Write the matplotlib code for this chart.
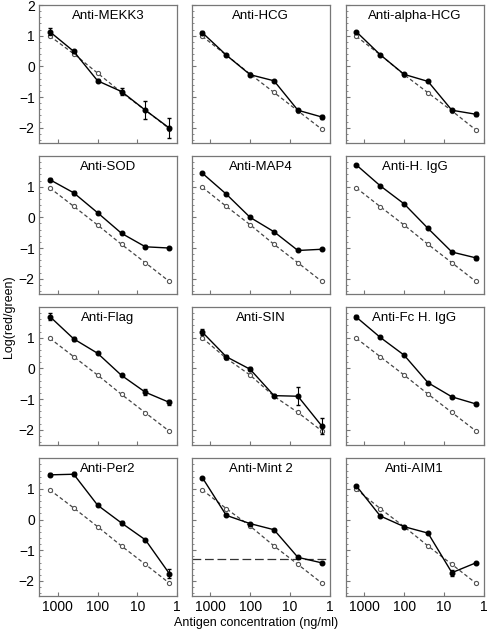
import numpy as np
import matplotlib.pyplot as plt
from matplotlib.ticker import LogLocator, MultipleLocator, NullFormatter, FixedLocator

plt.rcParams['font.family'] = ['Liberation Sans', 'DejaVu Sans']

# 4-fold dilution series (ng/ml)
conc = [1600, 400, 100, 25, 6.25, 1.5625]

titles = ["Anti-MEKK3", "Anti-HCG", "Anti-alpha-HCG",
          "Anti-SOD", "Anti-MAP4", "Anti-H. IgG",
          "Anti-Flag", "Anti-SIN", "Anti-Fc H. IgG",
          "Anti-Per2", "Anti-Mint 2", "Anti-AIM1"]

# reference (open circles, dashed) per panel
ref = [
    [0.99, 0.41, -0.22, -0.85, -1.43, -2.03],
    [0.98, 0.37, -0.25, -0.85, -1.45, -2.05],
    [0.98, 0.38, -0.27, -0.86, -1.45, -2.07],
    [0.96, 0.36, -0.25, -0.88, -1.48, -2.09],
    [0.98, 0.36, -0.24, -0.88, -1.48, -2.09],
    [0.96, 0.35, -0.25, -0.88, -1.48, -2.09],
    [0.98, 0.38, -0.22, -0.85, -1.45, -2.05],
    [0.99, 0.33, -0.22, -0.91, -1.44, -2.04],
    [0.98, 0.38, -0.22, -0.84, -1.44, -2.04],
    [0.97, 0.38, -0.23, -0.86, -1.46, -2.07],
    [0.97, 0.36, -0.21, -0.86, -1.46, -2.07],
    [0.99, 0.36, -0.23, -0.86, -1.46, -2.07],
]

# antibody signal (filled circles, solid)
sig = [
    [1.13, 0.49, -0.47, -0.82, -1.43, -2.01],
    [1.10, 0.37, -0.27, -0.47, -1.43, -1.65],
    [1.13, 0.38, -0.26, -0.49, -1.43, -1.56],
    [1.23, 0.80, 0.15, -0.52, -0.96, -1.00],
    [1.44, 0.76, 0.00, -0.47, -1.08, -1.04],
    [1.71, 1.03, 0.44, -0.36, -1.13, -1.32],
    [1.69, 0.96, 0.49, -0.23, -0.78, -1.11],
    [1.18, 0.38, -0.03, -0.89, -0.91, -1.88],
    [1.67, 1.01, 0.43, -0.47, -0.93, -1.16],
    [1.46, 1.48, 0.47, -0.11, -0.66, -1.76],
    [1.37, 0.14, -0.13, -0.33, -1.23, -1.41],
    [1.10, 0.12, -0.23, -0.44, -1.73, -1.41],
]

sig_err = [
    [0.12, 0.04, 0.05, 0.10, 0.30, 0.32],
    [0.04, 0.02, 0.03, 0.03, 0.04, 0.07],
    [0.04, 0.02, 0.03, 0.03, 0.04, 0.07],
    [0.05, 0.06, 0.03, 0.03, 0.05, 0.03],
    [0.03, 0.03, 0.03, 0.03, 0.03, 0.03],
    [0.03, 0.03, 0.03, 0.03, 0.03, 0.07],
    [0.12, 0.06, 0.03, 0.03, 0.10, 0.08],
    [0.10, 0.06, 0.06, 0.05, 0.30, 0.25],
    [0.06, 0.03, 0.03, 0.03, 0.03, 0.05],
    [0.05, 0.06, 0.03, 0.06, 0.03, 0.14],
    [0.03, 0.03, 0.03, 0.03, 0.03, 0.03],
    [0.03, 0.03, 0.03, 0.03, 0.10, 0.03],
]

ref_err = [0.03] * 6

mint2_cutoff = -1.27

fig = plt.figure(figsize=(5.0, 6.33), dpi=100)

lefts = [0.078, 0.383, 0.691]
bottoms = [0.774, 0.5355, 0.297, 0.058]
w, h = 0.276, 0.218
spine_col = '#777777'

for i, title in enumerate(titles):
    r, c = divmod(i, 3)
    ax = fig.add_axes([lefts[c], bottoms[r], w, h])
    ax.set_xscale('log')
    ax.set_xlim(3000, 1)
    ax.set_ylim(-2.5, 2.0)

    ax.errorbar(conc, ref[i], yerr=ref_err, color='#444444', ls=(0, (3, 2)),
                lw=0.9, marker='o', ms=3.0, mfc='white', mec='#555555',
                mew=0.8, ecolor='#777777', elinewidth=0.7, capsize=1.2, zorder=2)
    ax.errorbar(conc, sig[i], yerr=sig_err[i], color='black', ls='-',
                lw=1.0, marker='o', ms=3.3, mfc='black', mec='black',
                ecolor='black', elinewidth=0.8, capsize=1.5, zorder=3)

    if title == "Anti-Mint 2":
        ax.axhline(mint2_cutoff, color='#333333', ls=(0, (7, 3)), lw=0.9, zorder=1)

    ax.text(0.5, 0.92, title, transform=ax.transAxes, ha='center', va='center',
            fontsize=9.5)

    for s in ax.spines.values():
        s.set_color(spine_col)
        s.set_linewidth(0.9)

    ax.xaxis.set_major_locator(FixedLocator([1000, 100, 10, 1]))
    ax.xaxis.set_minor_locator(LogLocator(base=10, subs=np.arange(2, 10)))
    ax.xaxis.set_minor_formatter(NullFormatter())
    if r == 3:
        ax.set_xticklabels(['1000', '100', '10', '1'])
    else:
        ax.set_xticklabels([])

    if r == 0:
        ax.yaxis.set_major_locator(FixedLocator([2, 1, 0, -1, -2]))
    else:
        ax.yaxis.set_major_locator(FixedLocator([1, 0, -1, -2]))
    ax.yaxis.set_minor_locator(MultipleLocator(0.2))
    if c == 0:
        ax.set_yticklabels([str(t).replace('-', '\u2212') for t in ax.get_yticks().astype(int)])
    else:
        ax.set_yticklabels([])

    ax.tick_params(which='major', direction='in', length=3, width=0.8,
                   color=spine_col, labelsize=10, pad=3)
    ax.tick_params(which='minor', direction='in', length=1.5, width=0.6,
                   color=spine_col)

fig.text(0.018, 0.5, 'Log(red/green)', rotation=90, ha='center', va='center',
         fontsize=9)
fig.text(0.512, 0.016, 'Antigen concentration (ng/ml)', ha='center', va='center',
         fontsize=9)

fig.savefig('out.png', dpi=100)
